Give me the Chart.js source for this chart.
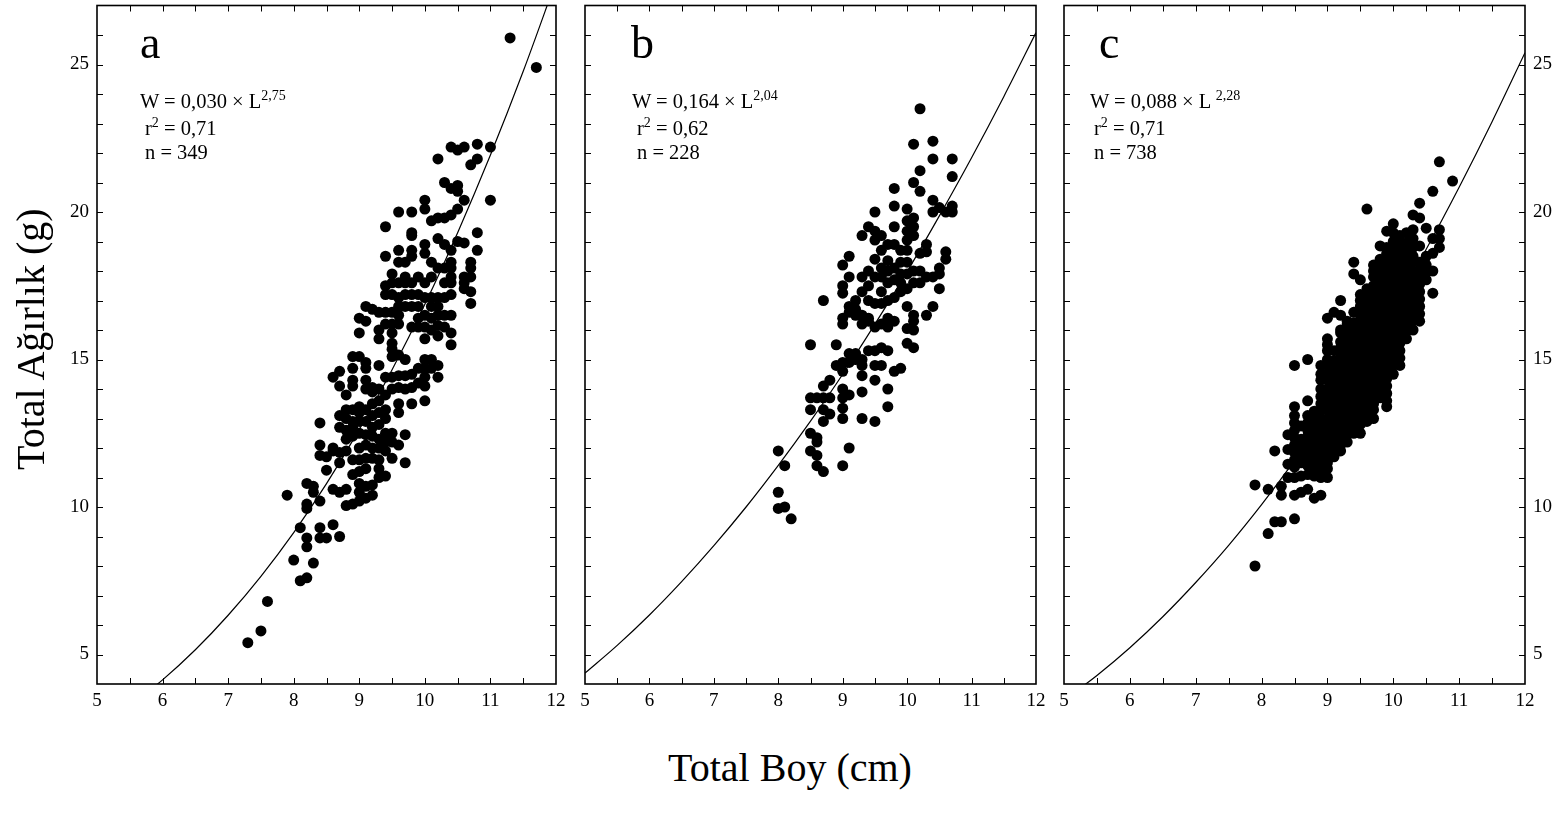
<!DOCTYPE html>
<html>
<head>
<meta charset="utf-8">
<script src="https://cdn.jsdelivr.net/npm/chart.js"></script>
<style>
  body { margin: 0; background: #fff; width: 1558px; height: 818px; overflow: hidden; position: relative;
         font-family: "Liberation Serif", "Times New Roman", serif; color: #000; }
  canvas { position: absolute; top: 0; }
  .t { position: absolute; white-space: nowrap; }
  .letter { font-size: 46px; line-height: 46px; }
  .eq { font-size: 20.5px; line-height: 20px; }
  .eq sup { font-size: 14px; position: relative; top: -8px; vertical-align: baseline; line-height: 0; }
  .axt { font-size: 40px; line-height: 40px; }
</style>
</head>
<body>
<canvas id="chartA" width="572" height="730" style="left:0px"></canvas>
<canvas id="chartB" width="478" height="730" style="left:572px"></canvas>
<canvas id="chartC" width="508" height="730" style="left:1050px"></canvas>

<div class="t letter" style="left:140px; top:20px">a</div>
<div class="t eq" style="left:140px; top:91px">W = 0,030 × L<sup>2,75</sup></div>
<div class="t eq" style="left:145px; top:118px">r<sup>2</sup> = 0,71</div>
<div class="t eq" style="left:145px; top:142px">n = 349</div>

<div class="t letter" style="left:631px; top:20px">b</div>
<div class="t eq" style="left:632px; top:91px">W = 0,164 × L<sup>2,04</sup></div>
<div class="t eq" style="left:637px; top:118px">r<sup>2</sup> = 0,62</div>
<div class="t eq" style="left:637px; top:142px">n = 228</div>

<div class="t letter" style="left:1099px; top:20px">c</div>
<div class="t eq" style="left:1090px; top:91px">W = 0,088 × L <sup>2,28</sup></div>
<div class="t eq" style="left:1094px; top:118px">r<sup>2</sup> = 0,71</div>
<div class="t eq" style="left:1094px; top:142px">n = 738</div>

<div class="t axt" style="left:11px; top:470px; transform-origin:0 0; transform:rotate(-90deg)">Total Ağırlık (g)</div>
<div class="t axt" style="left:790px; top:748px; transform:translateX(-50%)">Total Boy (cm)</div>

<script>
// tick labels
const xTickLabels = [5, 6, 7, 8, 9, 10, 11, 12];
const yTickLabels = [5, 10, 15, 20, 25];

// fitted length-weight curves as drawn in the figure [length, weight]
const curveA = [[5.5, 3.26], [6, 4.14], [6.5, 5.16], [7, 6.33], [7.5, 7.65], [8, 9.13], [8.5, 10.79],
  [9, 12.63], [9.5, 14.65], [10, 16.87], [10.5, 19.3], [11, 21.93], [11.5, 24.77], [12, 27.83]];
const curveB = [[5, 4.37], [5.5, 5.31], [6, 6.34], [6.5, 7.47], [7, 8.69], [7.5, 10.0], [8, 11.41],
  [8.5, 12.91], [9, 14.5], [9.5, 16.2], [10, 17.98], [10.5, 19.87], [11, 21.84], [11.5, 23.91], [12, 26.08]];
const curveC = [[5, 3.45], [5.5, 4.29], [6, 5.23], [6.5, 6.28], [7, 7.44], [7.5, 8.7], [8, 10.08],
  [8.5, 11.57], [9, 13.19], [9.5, 14.92], [10, 16.77], [10.5, 18.74], [11, 20.84], [11.5, 23.06], [12, 25.4]];

// fish measured: [total length (cm), [total weights (g)]]
const lengthWeightA = [
  [7.3, [5.4]], [7.5, [5.8]], [7.6, [6.8]], [7.9, [10.4]], [8.0, [8.2]], [8.1, [7.5, 9.3]],
  [8.2, [7.6, 8.65, 8.95, 9.95, 10.1, 10.8]],
  [8.3, [8.1, 10.5, 10.7]],
  [8.4, [8.95, 9.3, 10.2, 11.75, 12.1, 12.85]],
  [8.5, [8.95, 11.25, 11.7]],
  [8.6, [9.4, 10.6, 11.9, 12.0, 14.4]],
  [8.7, [9.0, 10.5, 11.5, 11.85, 12.7, 13.1, 14.1, 14.6]],
  [8.8, [10.05, 10.6, 11.9, 12.3, 12.6, 13.0, 13.3, 13.8]],
  [8.9, [10.1, 11.1, 11.6, 12.4, 12.7, 12.9, 13.3, 14.1, 14.3, 14.7, 15.1]],
  [9.0, [10.2, 10.5, 10.8, 11.2, 11.6, 12.0, 12.5, 12.9, 13.2, 13.4, 15.1, 15.9, 16.4]],
  [9.1, [10.3, 10.7, 11.3, 11.65, 12.1, 12.45, 12.9, 13.3, 14.0, 14.3, 14.7, 14.9, 16.3, 16.8]],
  [9.2, [10.4, 10.75, 11.65, 12.0, 12.4, 12.7, 13.1, 13.5, 13.9, 14.05, 16.7]],
  [9.3, [11.0, 11.3, 11.6, 12.0, 12.3, 12.8, 13.2, 13.6, 14.0, 14.8, 15.7, 16.0, 16.6]],
  [9.4, [11.05, 11.9, 12.2, 12.5, 13.0, 13.3, 13.8, 14.4, 16.2, 16.6, 17.2, 17.5, 18.5, 19.5]],
  [9.5, [11.65, 12.2, 12.5, 14.0, 14.4, 15.1, 15.35, 15.55, 15.9, 16.2, 16.6, 17.2, 17.6, 17.9]],
  [9.6, [12.1, 13.2, 13.5, 14.05, 14.45, 15.15, 16.2, 16.5, 16.8, 17.1, 17.6, 18.3, 18.7, 20.0]],
  [9.7, [11.5, 12.45, 14.0, 14.45, 15.0, 16.8, 17.2, 17.6, 17.8, 18.3]],
  [9.8, [13.5, 14.05, 14.5, 16.1, 16.8, 17.2, 17.6, 18.5, 18.7, 19.2, 19.3, 20.0]],
  [9.9, [14.2, 14.7, 16.1, 16.4, 16.8, 17.2, 17.8]],
  [10.0, [13.6, 14.1, 14.4, 14.7, 15.0, 15.7, 16.1, 16.5, 17.1, 17.6, 18.6, 18.9, 20.1, 20.4]],
  [10.1, [14.7, 15.0, 16.0, 16.4, 16.8, 17.1, 17.8, 18.3, 19.7]],
  [10.2, [14.4, 14.8, 15.8, 16.15, 16.5, 16.8, 17.1, 18.1, 19.1, 19.8, 21.8]],
  [10.3, [16.1, 16.5, 17.1, 17.6, 18.1, 18.9, 19.8, 21.0]],
  [10.4, [15.5, 15.9, 16.5, 17.2, 17.6, 17.8, 18.1, 18.3, 18.7, 19.9, 20.8, 22.2]],
  [10.5, [19.0, 20.1, 20.7, 20.9, 22.1]],
  [10.6, [17.4, 17.6, 17.8, 18.95, 20.4, 22.2]],
  [10.7, [16.9, 17.3, 17.8, 18.1, 18.3, 21.6]],
  [10.8, [18.7, 19.3, 21.8, 22.3]],
  [11.0, [20.4, 22.2]], [11.3, [25.9]], [11.7, [24.9]]
];

const lengthWeightB = [
  [8.0, [9.95, 10.5, 11.9]], [8.1, [10.0, 11.4]], [8.2, [9.6]],
  [8.5, [11.9, 12.5, 13.3, 13.7, 15.5]],
  [8.6, [11.4, 11.75, 12.2, 12.35, 13.7]],
  [8.7, [11.2, 12.9, 13.3, 13.7, 14.1, 17.0]],
  [8.8, [13.15, 13.7, 14.3]],
  [8.9, [14.8, 15.5]],
  [9.0, [11.4, 13.0, 13.35, 13.7, 14.0, 14.6, 14.9, 16.2, 16.4, 17.25, 17.5, 18.2]],
  [9.1, [12.0, 13.8, 14.9, 15.2, 16.6, 16.8, 17.8, 18.5]],
  [9.2, [15.0, 15.2, 16.5, 16.7, 17.0]],
  [9.3, [13.0, 13.9, 14.45, 14.8, 15.0, 16.2, 16.5, 17.3, 17.8, 19.2]],
  [9.4, [15.3, 16.3, 16.4, 17.0, 17.5, 18.0, 19.5]],
  [9.5, [12.9, 14.3, 14.8, 15.3, 16.1, 16.9, 17.8, 18.4, 19.05, 19.35, 20.0]],
  [9.6, [14.8, 15.4, 16.2, 16.9, 17.3, 17.8, 18.1, 18.7, 19.2]],
  [9.7, [13.4, 14.0, 15.3, 16.1, 16.4, 17.0, 17.6, 18.0, 18.35, 18.9]],
  [9.8, [14.6, 16.3, 17.1, 17.7, 18.1, 18.9, 19.5, 20.2, 20.8]],
  [9.9, [14.7, 17.3, 17.6, 17.9, 18.3, 18.7]],
  [10.0, [15.55, 16.05, 16.8, 17.4, 17.9, 18.3, 18.7, 19.05, 19.35, 19.7, 20.1]],
  [10.1, [15.4, 16.0, 16.3, 16.5, 17.6, 18.0, 19.2, 19.5, 19.8, 21.0, 22.3]],
  [10.2, [17.6, 18.0, 18.6, 20.7, 21.4, 23.5]],
  [10.3, [16.5, 17.8, 18.65, 18.9]],
  [10.4, [16.8, 17.8, 20.0, 20.4, 21.8, 22.4]],
  [10.5, [17.4, 17.9, 18.1, 20.15]],
  [10.6, [18.4, 18.65, 20.0]],
  [10.7, [20.0, 20.2, 21.2, 21.8]]
];

const lengthWeightC = [
  [7.9, [8.0, 10.75]], [8.1, [9.1, 10.6]], [8.2, [9.5, 11.9]],
  [8.3, [9.5, 10.4, 10.7]],
  [8.4, [11.0, 11.45, 11.95, 12.45]],
  [8.5, [9.6, 10.4, 11.0, 11.35, 11.6, 11.85, 12.1, 12.35, 12.6, 12.85, 13.1, 13.4, 14.8]],
  [8.6, [10.5, 11.05, 11.5, 11.75, 12.0, 12.3, 12.75]],
  [8.7, [10.6, 11.1, 11.4, 11.6, 11.85, 12.1, 12.4, 12.6, 12.85, 13.1, 13.6, 15.0]],
  [8.8, [10.3, 11.05, 11.3, 11.55, 11.8, 12.05, 12.3, 12.55, 12.8, 13.05, 13.25]],
  [8.9, [10.4, 11.0, 11.25, 11.5, 11.75, 12.0, 12.25, 12.5, 12.75, 13.0, 13.3, 13.5, 13.75, 14.0, 14.3, 14.5, 14.8]],
  [9.0, [11.0, 11.3, 11.5, 11.8, 12.0, 12.3, 12.5, 12.8, 13.0, 13.3, 13.5, 13.8, 14.0, 14.3, 14.5, 14.8,
    15.0, 15.3, 15.5, 15.7, 16.4]],
  [9.1, [11.7, 11.95, 12.2, 12.45, 12.7, 12.95, 13.2, 13.45, 13.7, 13.95, 14.2, 14.45, 14.7, 14.95, 15.3, 16.6]],
  [9.2, [11.9, 12.1, 12.4, 12.6, 12.9, 13.1, 13.4, 13.6, 13.9, 14.1, 14.4, 14.6, 14.9, 15.1, 15.4, 15.6,
    15.9, 16.0, 16.5, 17.0]],
  [9.3, [12.2, 12.45, 12.7, 12.95, 13.2, 13.45, 13.7, 13.95, 14.2, 14.45, 14.7, 14.95, 15.2, 15.45, 15.7,
    15.95, 16.2, 16.3]],
  [9.4, [12.5, 12.75, 13.0, 13.25, 13.5, 13.75, 14.0, 14.25, 14.5, 14.75, 15.0, 15.25, 15.5, 15.75, 16.0,
    16.25, 16.6, 17.9, 18.3]],
  [9.5, [12.5, 12.8, 13.0, 13.3, 13.5, 13.8, 14.0, 14.3, 14.5, 14.8, 15.0, 15.3, 15.5, 15.8, 16.0, 16.3,
    16.5, 16.8, 17.0, 17.2, 17.7]],
  [9.6, [12.9, 13.15, 13.4, 13.65, 13.9, 14.15, 14.4, 14.65, 14.9, 15.15, 15.4, 15.65, 15.9, 16.15, 16.4,
    16.65, 16.9, 17.15, 17.4, 20.1]],
  [9.7, [13.0, 13.3, 13.5, 13.8, 14.0, 14.3, 14.5, 14.8, 15.0, 15.3, 15.5, 15.8, 16.0, 16.3, 16.5, 16.8,
    17.0, 17.3, 17.5, 17.8, 18.0, 18.2]],
  [9.8, [13.7, 13.95, 14.2, 14.45, 14.7, 14.95, 15.2, 15.45, 15.7, 15.95, 16.2, 16.45, 16.7, 16.95, 17.2,
    17.45, 17.7, 17.95, 18.2, 18.4, 18.85]],
  [9.9, [13.4, 13.6, 13.85, 14.1, 14.35, 14.6, 14.85, 15.1, 15.35, 15.6, 15.85, 16.1, 16.35, 16.6, 16.85,
    17.1, 17.35, 17.6, 17.85, 18.1, 18.35, 18.6, 18.8, 19.35]],
  [10.0, [14.5, 14.8, 15.0, 15.3, 15.5, 15.8, 16.0, 16.3, 16.5, 16.8, 17.0, 17.3, 17.5, 17.8, 18.0, 18.3,
    18.5, 18.8, 19.0, 19.3, 19.6]],
  [10.1, [14.8, 15.05, 15.3, 15.55, 15.8, 16.05, 16.3, 16.55, 16.8, 17.05, 17.3, 17.55, 17.8, 18.05, 18.3,
    18.55, 18.8, 19.0, 19.2]],
  [10.2, [15.7, 15.95, 16.2, 16.45, 16.7, 16.95, 17.2, 17.45, 17.7, 17.95, 18.2, 18.45, 18.7, 18.95, 19.3]],
  [10.3, [16.0, 16.3, 16.5, 16.8, 17.0, 17.3, 17.5, 17.8, 18.0, 18.3, 18.5, 18.8, 19.1, 19.4, 19.9]],
  [10.4, [16.3, 16.55, 16.8, 17.05, 17.3, 17.55, 17.8, 18.05, 18.3, 18.85, 19.8, 20.3]],
  [10.5, [17.7, 17.95, 18.2, 18.5, 19.45]],
  [10.6, [17.25, 18.0, 18.6, 19.1, 20.7]],
  [10.7, [18.8, 19.1, 19.4, 21.7]],
  [10.9, [21.05]]
];

const tickFont = { family: '"Liberation Serif", "Times New Roman", serif', size: 19 };

function toPoints(groups) {
  const out = [];
  groups.forEach(([len, weights]) => weights.forEach(w => out.push({ x: len, y: w })));
  return out;
}

// frame and inward tick marks on all four sides
const frameTicks = {
  id: 'frameTicks',
  afterDraw(chart) {
    const { ctx, chartArea: a } = chart;
    const x = chart.scales.x, y = chart.scales.y;
    ctx.save();
    ctx.strokeStyle = '#000';
    ctx.lineWidth = 1;
    ctx.beginPath();
    for (let v = 5.5; v < 12; v += 0.5) {
      const px = Math.round(x.getPixelForValue(v)) + 0.5;
      ctx.moveTo(px, a.bottom); ctx.lineTo(px, a.bottom - 6);
      ctx.moveTo(px, a.top); ctx.lineTo(px, a.top + 6);
    }
    for (let v = 5; v <= 26; v += 1) {
      const py = Math.round(y.getPixelForValue(v)) + 0.5;
      ctx.moveTo(a.left, py); ctx.lineTo(a.left + 6, py);
      ctx.moveTo(a.right, py); ctx.lineTo(a.right - 6, py);
    }
    ctx.stroke();
    ctx.lineWidth = 1.6;
    ctx.strokeRect(a.left, a.top, a.width, a.height);
    ctx.restore();
  }
};

function makePanel(id, groups, curve, yPos, yWidth, padding) {
  new Chart(document.getElementById(id), {
    type: 'scatter',
    data: {
      datasets: [
        {
          data: curve.map(([x, y]) => ({ x, y })),
          showLine: true,
          borderColor: '#000',
          borderWidth: 1.2,
          pointRadius: 0,
          cubicInterpolationMode: 'monotone'
        },
        {
          data: toPoints(groups),
          backgroundColor: '#000',
          borderWidth: 0,
          pointRadius: 5.5
        }
      ]
    },
    options: {
      responsive: false,
      animation: false,
      devicePixelRatio: 1,
      layout: { padding },
      plugins: { legend: { display: false }, tooltip: { enabled: false } },
      scales: {
        x: {
          type: 'linear', min: 5, max: 12,
          grid: { display: false, drawTicks: false },
          border: { display: false },
          afterBuildTicks: s => { s.ticks = xTickLabels.map(v => ({ value: v })); },
          afterFit: s => { s.height = 46; s.paddingLeft = 0; s.paddingRight = 0; },
          ticks: { font: tickFont, color: '#000', padding: 6, autoSkip: false, maxRotation: 0 }
        },
        y: {
          type: 'linear', min: 4, max: 27, position: yPos,
          display: yWidth > 0,
          grid: { display: false, drawTicks: false },
          border: { display: false },
          afterBuildTicks: s => { s.ticks = yTickLabels.map(v => ({ value: v })); },
          afterFit: s => { s.width = yWidth; s.paddingTop = 0; s.paddingBottom = 0; },
          ticks: { font: tickFont, color: '#000', padding: 8 }
        }
      }
    },
    plugins: [frameTicks]
  });
}

makePanel('chartA', lengthWeightA, curveA, 'left', 97, { left: 0, right: 16, top: 4, bottom: 0 });
makePanel('chartB', lengthWeightB, curveB, 'left', 0, { left: 13, right: 14, top: 4, bottom: 0 });
makePanel('chartC', lengthWeightC, curveC, 'right', 33, { left: 14, right: 0, top: 4, bottom: 0 });
</script>
</body>
</html>
